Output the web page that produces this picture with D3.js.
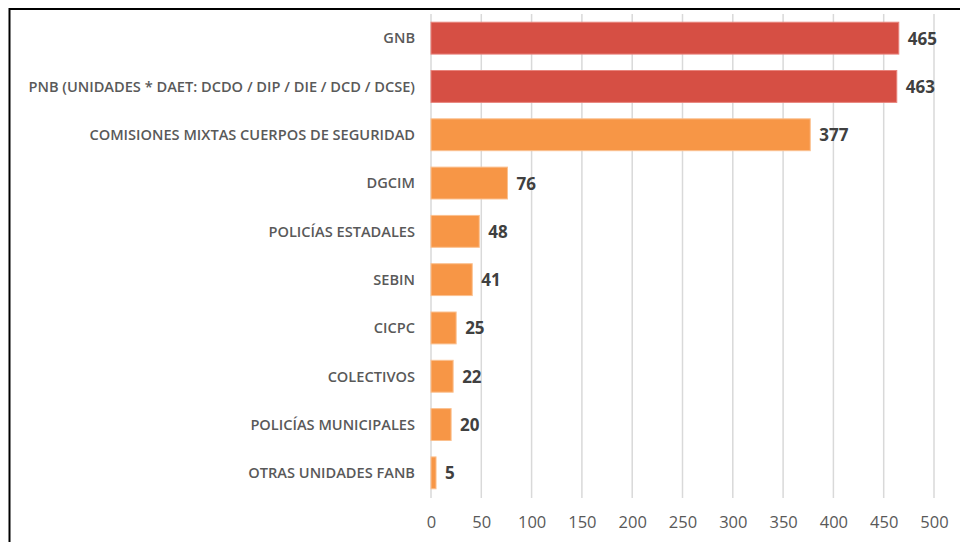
<!DOCTYPE html>
<html>
<head>
<meta charset="utf-8">
<script src="https://cdn.jsdelivr.net/npm/d3@7"></script>
<style>
  body { margin: 0; background: #fff; }
  svg { display: block; }
</style>
</head>
<body>
<svg id="chart"></svg>
<script>
var categories = ['GNB', 'PNB (UNIDADES * DAET: DCDO / DIP / DIE / DCD / DCSE)', 'COMISIONES MIXTAS CUERPOS DE SEGURIDAD',
    'DGCIM', 'POLICÍAS ESTADALES', 'SEBIN', 'CICPC', 'COLECTIVOS', 'POLICÍAS MUNICIPALES', 'OTRAS UNIDADES FANB'];
var values = [465, 463, 377, 76, 48, 41, 25, 22, 20, 5];
var highlighted = ['GNB', 'PNB (UNIDADES * DAET: DCDO / DIP / DIE / DCD / DCSE)'];
var xTicks = [0, 50, 100, 150, 200, 250, 300, 350, 400, 450, 500];

var data = categories.map(function(c, i) { return {name: c, value: values[i]}; });

var W = 960, H = 542;
var svg = d3.select('#chart').attr('width', W).attr('height', H);

// outer frame (right & bottom edges fall off the picture)
svg.append('rect').attr('x', 9.5).attr('y', 9).attr('width', 1000).attr('height', 1000)
    .attr('fill', 'none').attr('stroke', '#000').attr('stroke-width', 2);

var x = d3.scaleLinear().domain([0, 500]).range([431, 934]);
var y = d3.scaleBand().domain(categories).range([14, 497]).paddingInner(0.34).paddingOuter(0.17);

// gridlines
svg.append('g').selectAll('line').data(xTicks).enter().append('line')
    .attr('x1', function(d) { return x(d); }).attr('x2', function(d) { return x(d); })
    .attr('y1', 14).attr('y2', 498)
    .attr('stroke', '#d9d9d9').attr('stroke-width', 1.5);

// bars
svg.append('g').selectAll('rect').data(data).enter().append('rect')
    .attr('x', x(0))
    .attr('y', function(d) { return y(d.name); })
    .attr('width', function(d) { return x(d.value) - x(0); })
    .attr('height', y.bandwidth())
    .attr('fill', function(d) { return highlighted.indexOf(d.name) >= 0 ? '#d64f44' : '#f79646'; })
    .attr('stroke', function(d) { return highlighted.indexOf(d.name) >= 0 ? '#e8847c' : '#fbc08f'; })
    .attr('stroke-width', 1);

// value labels
svg.append('g').selectAll('text').data(data).enter().append('text')
    .attr('x', function(d) { return x(d.value) + 9; })
    .attr('y', function(d) { return y(d.name) + y.bandwidth() / 2; })
    .attr('dy', '0.38em')
    .attr('font-family', '"Open Sans", sans-serif').attr('font-weight', 700).attr('font-size', 17)
    .attr('fill', '#404040')
    .text(function(d) { return d.value; });

// category labels
svg.append('g').selectAll('text').data(data).enter().append('text')
    .attr('x', 415)
    .attr('y', function(d) { return y(d.name) + y.bandwidth() / 2; })
    .attr('dy', '0.36em')
    .attr('text-anchor', 'end')
    .attr('font-family', '"Open Sans", sans-serif').attr('font-weight', 600).attr('font-size', 14.6)
    .attr('fill', '#595959')
    .text(function(d) { return d.name; });

// x axis tick labels
var xAxis = d3.axisBottom(x).tickValues(xTicks).tickSize(0).tickPadding(0);
var gx = svg.append('g').attr('transform', 'translate(0,516)').call(xAxis);
gx.select('.domain').remove();
gx.selectAll('text')
    .attr('font-family', '"Open Sans", sans-serif').attr('font-size', 16.5)
    .attr('fill', '#595959');
</script>
</body>
</html>
